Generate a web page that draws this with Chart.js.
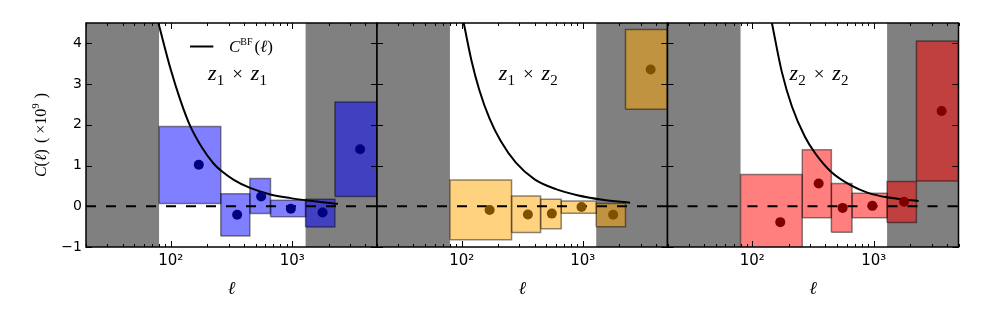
<!DOCTYPE html>
<html>
<head>
<meta charset="utf-8">
<script src="https://cdn.jsdelivr.net/npm/chart.js@4.4.1/dist/chart.umd.min.js"></script>
<style>
  html, body { margin: 0; padding: 0; background: #fff; }
  #wrap { position: relative; width: 981px; height: 327px; }
  #wrap canvas { position: absolute; left: 0; top: 0; }
</style>
</head>
<body>
<div id="wrap">
  <canvas id="c1" width="981" height="327"></canvas>
  <canvas id="c2" width="981" height="327"></canvas>
  <canvas id="c3" width="981" height="327"></canvas>
</div>
<script>
// axis ranges and masked (grey) multipole ranges
const ellMin = 20;
const ellMax = 5000;
const yMin = -1;
const yMax = 4.5;
const maskLow = 80;
const maskHigh = 1290;
const yTicks = [-1, 0, 1, 2, 3, 4];
const xTicks = [100, 1000];
const xTickLabels = ["10²", "10³"];

// bandpowers: bin edges and bin centres (same for every pair)
const binEdges = [80, 258, 448, 663, 1290, 2250, 5000];
const ellCenters = [170, 352, 555, 975, 1780, 3630];

// z1 x z1
const c11 = [1.02, -0.21, 0.24, -0.06, -0.155, 1.40];
const c11Lo = [0.07, -0.73, -0.18, -0.26, -0.51, 0.24];
const c11Hi = [1.96, 0.31, 0.68, 0.15, 0.17, 2.56];
// z1 x z2
const c12 = [-0.09, -0.20, -0.18, -0.02, -0.21, 3.36];
const c12Lo = [-0.825, -0.645, -0.55, -0.17, -0.50, 2.38];
const c12Hi = [0.645, 0.25, 0.17, 0.13, 0.07, 4.34];
// z2 x z2
const c22 = [-0.39, 0.56, -0.04, 0.01, 0.11, 2.34];
const c22Lo = [-1.2, -0.28, -0.64, -0.28, -0.40, 0.62];
const c22Hi = [0.78, 1.39, 0.56, 0.32, 0.61, 4.06];

// best-fit theory curves C^BF(l)
const bf11Ell = [79, 100, 120, 143, 180, 225, 260, 330, 450, 660, 970, 1290, 2380];
const bf11 = [4.5, 3.35, 2.6, 2.0, 1.45, 1.05, 0.87, 0.65, 0.45, 0.29, 0.2, 0.15, 0.06];
const bf12Ell = [104, 120, 140, 170, 210, 280, 400, 600, 900, 1450, 2455];
const bf12 = [4.5, 3.6, 2.85, 2.15, 1.6, 1.07, 0.66, 0.42, 0.27, 0.16, 0.085];
const bf22Ell = [145, 175, 212, 272, 330, 445, 662, 900, 1290, 2344];
const bf22 = [4.5, 3.3, 2.45, 1.7, 1.3, 0.85, 0.5, 0.33, 0.22, 0.13];

// panel frames in page pixels
const panels = [
  { id: "c1", left: 86, right: 377, vals: c11, lo: c11Lo, hi: c11Hi, bfEll: bf11Ell, bf: bf11,
    fill: "rgba(0,0,255,0.5)", dot: "#000080", a: "1", b: "1", legend: true },
  { id: "c2", left: 377, right: 667.5, vals: c12, lo: c12Lo, hi: c12Hi, bfEll: bf12Ell, bf: bf12,
    fill: "rgba(255,165,0,0.5)", dot: "#7f5000", a: "1", b: "2", legend: false },
  { id: "c3", left: 667.5, right: 958.5, vals: c22, lo: c22Lo, hi: c22Hi, bfEll: bf22Ell, bf: bf22,
    fill: "rgba(255,0,0,0.5)", dot: "#800000", a: "2", b: "2", legend: false }
];
const plotTop = 23;
const plotBottom = 247;
const serif = "'Liberation Serif', 'DejaVu Serif', serif";

function rect(x0, x1, y0, y1) {
  return [{ x: x0, y: y0 }, { x: x1, y: y0 }, { x: x1, y: y1 }, { x: x0, y: y1 }, { x: x0, y: y0 }];
}

function shapeDataset(points, fill, border, order) {
  return {
    data: points, fill: "shape", backgroundColor: fill, borderColor: border,
    borderWidth: border ? 1.5 : 0, pointRadius: 0, tension: 0, order: order
  };
}

// draws a run of text pieces (font, offset) centred on x
function drawPieces(ctx, pieces, x, y, align) {
  let total = 0;
  pieces.forEach(p => { ctx.font = p.font; p.w = ctx.measureText(p.t).width; total += p.w + (p.gap || 0); });
  let cx = align === "left" ? x : x - total / 2;
  pieces.forEach(p => {
    ctx.font = p.font;
    ctx.fillText(p.t, cx, y + (p.dy || 0));
    cx += p.w + (p.gap || 0);
  });
}

const decoPlugin = {
  id: "deco",
  afterDraw(chart) {
    const ctx = chart.ctx;
    const area = chart.chartArea;
    const xs = chart.scales.x;
    const ys = chart.scales.y;
    const p = chart.options.plugins.deco;
    ctx.save();
    ctx.strokeStyle = "#000";
    ctx.fillStyle = "#000";

    // inward tick marks
    ctx.lineWidth = 1;
    ctx.beginPath();
    [20, 30, 40, 50, 60, 70, 80, 90, 100, 200, 300, 400, 500, 600, 700, 800, 900, 1000, 2000, 3000, 4000, 5000].forEach(v => {
      const px = Math.round(xs.getPixelForValue(v)) + 0.5;
      const len = (v === 100 || v === 1000) ? 6 : 3;
      ctx.moveTo(px, area.bottom); ctx.lineTo(px, area.bottom - len);
      ctx.moveTo(px, area.top); ctx.lineTo(px, area.top + len);
    });
    yTicks.forEach(v => {
      const py = Math.round(ys.getPixelForValue(v)) + 0.5;
      ctx.moveTo(area.left, py); ctx.lineTo(area.left + 6, py);
      ctx.moveTo(area.right, py); ctx.lineTo(area.right - 6, py);
    });
    ctx.stroke();

    // frame
    ctx.lineWidth = 1.5;
    ctx.strokeRect(area.left, area.top, area.right - area.left, area.bottom - area.top);

    const cx = (area.left + area.right) / 2;
    ctx.textBaseline = "alphabetic";

    // x label
    drawPieces(ctx, [{ t: "ℓ", font: "italic 18px " + serif }], cx, 294);

    // pair label
    const big = "italic 22px " + serif;
    const sub = "15px " + serif;
    drawPieces(ctx, [
      { t: "z", font: big }, { t: p.a, font: sub, dy: 5, gap: 8 },
      { t: "×", font: "19px " + serif, gap: 8 },
      { t: "z", font: big }, { t: p.b, font: sub, dy: 5 }
    ], cx + 6, 80);

    if (p.legend) {
      ctx.lineWidth = 2;
      ctx.beginPath();
      ctx.moveTo(xs.getPixelForValue(144), 46.5);
      ctx.lineTo(xs.getPixelForValue(224), 46.5);
      ctx.stroke();
      drawPieces(ctx, [
        { t: "C", font: "italic 17px " + serif },
        { t: "BF", font: "10px " + serif, dy: -7, gap: 2 },
        { t: "(", font: "17px " + serif },
        { t: "ℓ", font: "italic 17px " + serif },
        { t: ")", font: "17px " + serif }
      ], 229, 52, "left");

      // y label, rotated
      ctx.save();
      ctx.translate(46, (area.top + area.bottom) / 2);
      ctx.rotate(-Math.PI / 2);
      drawPieces(ctx, [
        { t: "C", font: "italic 16px " + serif },
        { t: "(", font: "16px " + serif },
        { t: "ℓ", font: "italic 16px " + serif },
        { t: ")", font: "16px " + serif, gap: 6 },
        { t: "(", font: "16px " + serif, gap: 4 },
        { t: "×10", font: "16px " + serif },
        { t: "9", font: "11px " + serif, dy: -7, gap: 5 },
        { t: ")", font: "16px " + serif }
      ], 0, 0);
      ctx.restore();
    }
    ctx.restore();
  }
};

function buildChart(panel, index) {
  const datasets = [];

  // grey masked ranges
  datasets.push(shapeDataset(rect(ellMin, maskLow, yMin, yMax), "#808080", null, 20));
  datasets.push(shapeDataset(rect(maskHigh, ellMax, yMin, yMax), "#808080", null, 20));

  // error boxes
  panel.vals.forEach((v, i) => {
    datasets.push(shapeDataset(rect(binEdges[i], binEdges[i + 1], panel.lo[i], panel.hi[i]),
      panel.fill, "rgba(0,0,0,0.45)", 10));
  });

  // zero line
  datasets.push({
    data: [{ x: ellMin, y: 0 }, { x: ellMax, y: 0 }], borderColor: "#000", borderWidth: 2,
    borderDash: [10, 10], pointRadius: 0, fill: false, order: 4
  });

  // best-fit curve
  datasets.push({
    data: panel.bfEll.map((l, i) => ({ x: l, y: panel.bf[i] })), borderColor: "#000", borderWidth: 2,
    cubicInterpolationMode: "monotone", pointRadius: 0, fill: false, order: 3
  });

  // measured points
  datasets.push({
    data: ellCenters.map((l, i) => ({ x: l, y: panel.vals[i] })), showLine: false,
    pointRadius: 5, pointBackgroundColor: panel.dot, pointBorderWidth: 0, fill: false, order: 1
  });

  const first = index === 0;
  return new Chart(document.getElementById(panel.id), {
    type: "line",
    data: { datasets: datasets },
    options: {
      responsive: false,
      animation: false,
      events: [],
      layout: { padding: { left: first ? 0 : panel.left, right: 981 - panel.right, top: plotTop, bottom: 0 } },
      plugins: {
        legend: { display: false },
        tooltip: { enabled: false },
        deco: { a: panel.a, b: panel.b, legend: panel.legend }
      },
      scales: {
        x: {
          type: "logarithmic", min: ellMin, max: ellMax,
          grid: { display: false, drawTicks: false }, border: { display: false },
          ticks: {
            color: "#000", padding: 5, maxRotation: 0, autoSkip: false,
            font: { family: "'DejaVu Sans'", size: 15 },
            callback: v => xTickLabels[xTicks.indexOf(v)]
          },
          afterBuildTicks: s => { s.ticks = xTicks.map(v => ({ value: v })); },
          afterFit: s => { s.height = 327 - plotBottom; }
        },
        y: {
          type: "linear", min: yMin, max: yMax, display: first,
          grid: { display: false, drawTicks: false }, border: { display: false },
          ticks: {
            color: "#000", padding: 4, autoSkip: false,
            font: { family: "'DejaVu Sans'", size: 14 },
            callback: v => (v < 0 ? "−" + Math.abs(v) : String(v))
          },
          afterBuildTicks: s => { s.ticks = yTicks.map(v => ({ value: v })); },
          afterFit: s => { s.width = first ? panel.left : 0; }
        }
      }
    },
    plugins: [decoPlugin]
  });
}

panels.forEach((p, i) => buildChart(p, i));
</script>
</body>
</html>
